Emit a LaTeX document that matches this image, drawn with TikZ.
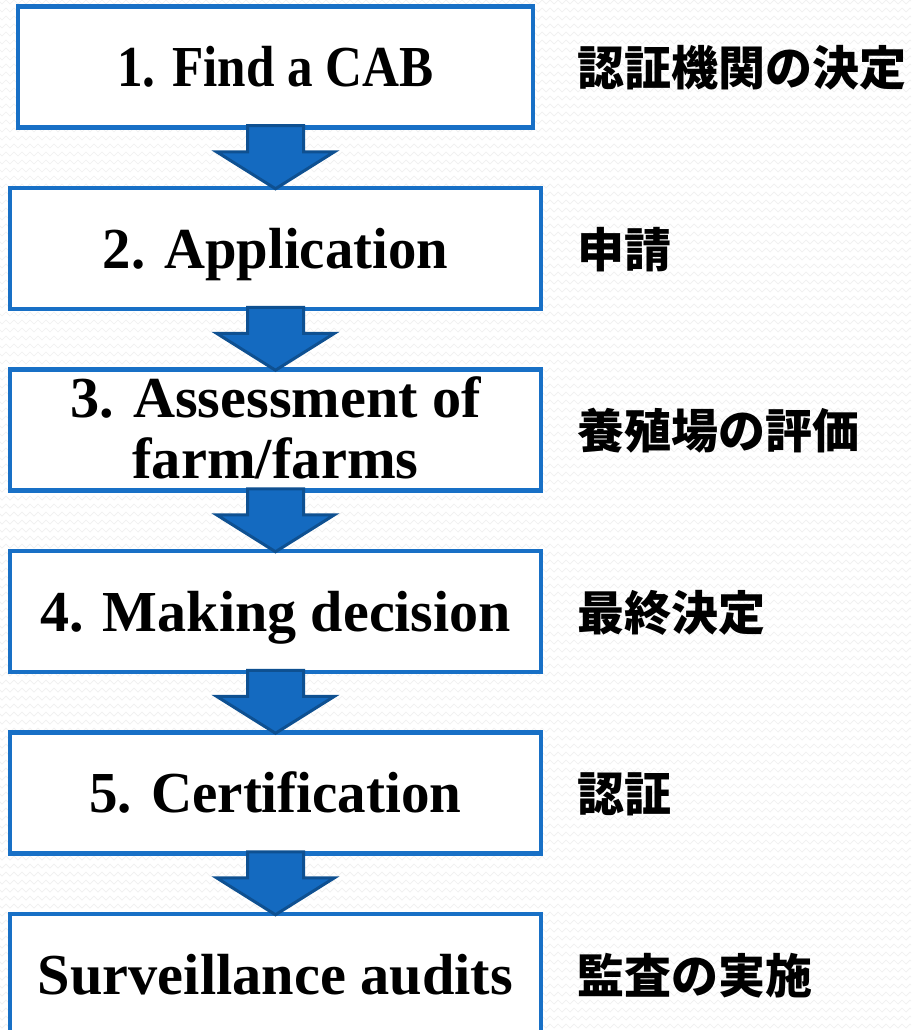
\documentclass[tikz,border=0pt]{standalone}
\usepackage{fontspec}
\setmainfont{Liberation Serif}
\newfontfamily\jp{Noto Sans CJK JP}
\usetikzlibrary{calc,decorations.pathmorphing}
\definecolor{boxblue}{RGB}{24,112,198}
\definecolor{arrfill}{RGB}{20,106,192}
\definecolor{arrline}{RGB}{14,80,145}
\newcommand\blockarr[2]{%
  \path[barrow] let \p1=(#1.south), \p2=(#2.north) in
    (\x1-28pt,\y1+4pt) -- (\x1+28pt,\y1+4pt) -- (\x1+28pt,\y2+34pt) --
    (\x1+59pt,\y2+34pt) -- (\x1,\y2-3pt) -- (\x1-59pt,\y2+34pt) --
    (\x1-28pt,\y2+34pt) -- cycle;}
\newcommand\fitw[2]{\resizebox{#1pt}{\height}{#2}}
\begin{document}
\begin{tikzpicture}[x=1pt,y=-1pt,
  box/.style={draw=boxblue, line width=4.5pt, fill=white, rectangle, inner sep=0pt,
              minimum width=531pt, minimum height=121pt},
  lab/.style={font=\bfseries\fontsize{58}{60}\selectfont, anchor=base, inner sep=0pt},
  jlab/.style={font=\jp\bfseries\fontsize{47}{50}\selectfont, anchor=west, inner sep=0pt},
  barrow/.style={fill=arrfill, draw=arrline, line width=3pt, line join=miter},
  bgzig/.style={draw=black!6, line width=0.7pt, decorate,
                decoration={zigzag, segment length=8pt, amplitude=2pt}}]
\useasboundingbox (0,0) rectangle (911,1030);
\clip (0,0) rectangle (911,1030);
\fill[white] (0,0) rectangle (911,1030);
\foreach \r in {0,...,129} \draw[bgzig] (-4,\r*8+2) -- (915,\r*8+2);

% boxes
\node[box, minimum width=515pt] (b1) at (275.5,67) {};
\node[box] (b2) at (275.5,248.5) {};
\node[box] (b3) at (275.5,430) {};
\node[box] (b4) at (275.5,611.5) {};
\node[box] (b5) at (275.5,793) {};
\node[box, minimum height=160pt] (b6) at (275.5,994) {};

% arrows
\blockarr{b1}{b2}
\blockarr{b2}{b3}
\blockarr{b3}{b4}
\blockarr{b4}{b5}
\blockarr{b5}{b6}

% labels in boxes
\node[lab] (t1) at (275.5,86.5) {\fitw{317}{1. Find a CAB}};
\node[lab] (t2) at (275.5,268) {\fitw{345}{2. Application}};
\node[lab] (t3a) at (275.5,417.5) {\fitw{411}{3. Assessment of}};
\node[lab] (t3b) at (275.5,478.5) {\fitw{286}{farm/farms}};
\node[lab] (t4) at (275.5,631) {\fitw{471}{4. Making decision}};
\node[lab] (t5) at (275.5,812.5) {\fitw{372}{5. Certification}};
\node[lab] (t6) at (275.5,994) {\fitw{475}{Surveillance audits}};

% Japanese labels
\node[jlab] (j1) at (577,68) {認証機関の決定};
\node[jlab] (j2) at (577,249.5) {申請};
\node[jlab] (j3) at (577,431) {養殖場の評価};
\node[jlab] (j4) at (577,612.5) {最終決定};
\node[jlab] (j5) at (577,794) {認証};
\node[jlab] (j6) at (577,975.5) {監査の実施};
\end{tikzpicture}
\end{document}
